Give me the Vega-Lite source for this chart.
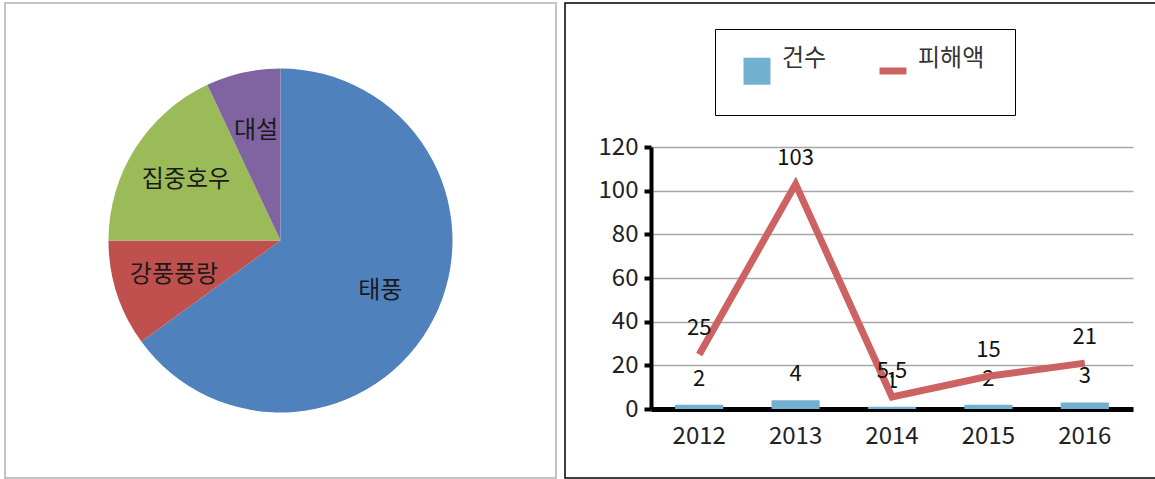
{
  "$schema": "https://vega.github.io/schema/vega-lite/v6.json",
  "background": "white",
  "padding": {"left": 4, "top": 2, "right": 0, "bottom": 0},
  "spacing": 7,
  "config": {"font": "Noto Sans CJK KR"},
  "resolve": {"scale": {"color": "independent"}, "legend": {"color": "independent"}},
  "hconcat": [
    {
      "width": 551,
      "height": 475,
      "view": {"stroke": "#c4c4c4", "strokeWidth": 2},
      "data": {"values": [
        {"type": "태풍", "value": 65, "idx": 1},
        {"type": "강풍풍랑", "value": 10, "idx": 2},
        {"type": "집중호우", "value": 18, "idx": 3},
        {"type": "대설", "value": 7, "idx": 4}
      ]},
      "encoding": {
        "theta": {"field": "value", "type": "quantitative", "stack": true},
        "order": {"field": "idx", "type": "quantitative"}
      },
      "layer": [
        {
          "mark": {"type": "arc", "outerRadius": 172},
          "encoding": {
            "color": {"field": "type", "type": "nominal",
              "scale": {"domain": ["태풍", "강풍풍랑", "집중호우", "대설"], "range": ["#4F81BD", "#C0504D", "#9BBB59", "#8064A2"]},
              "legend": null}
          }
        },
        {
          "mark": {"type": "text", "radius": 112, "fontSize": 24, "color": "#1a1a1a"},
          "encoding": {"text": {"field": "type", "type": "nominal"}}
        }
      ]
    },
    {
      "width": 591,
      "height": 475,
      "view": {"stroke": "black", "strokeWidth": 1.5},
      "data": {"values": [
        {"year": "2012", "cnt": 2, "dmg": 25},
        {"year": "2013", "cnt": 4, "dmg": 103},
        {"year": "2014", "cnt": 1, "dmg": 5.5},
        {"year": "2015", "cnt": 2, "dmg": 15},
        {"year": "2016", "cnt": 3, "dmg": 21}
      ]},
      "encoding": {
        "x": {"field": "year", "type": "ordinal",
          "scale": {"range": [86, 568], "paddingInner": 0.5, "paddingOuter": 0.25},
          "axis": {"orient": "bottom", "offset": -69, "domainColor": "black", "domainWidth": 5, "ticks": false, "labelFontSize": 24, "labelPadding": 15, "labelAngle": 0, "labelColor": "#222", "title": null, "grid": false}}
      },
      "layer": [
        {
          "mark": {"type": "bar"},
          "encoding": {
            "y": {"field": "cnt", "type": "quantitative",
              "scale": {"domain": [0, 120], "range": [406, 144], "nice": false},
              "axis": {"values": [0, 20, 40, 60, 80, 100, 120], "offset": -86, "domainColor": "black", "domainWidth": 4, "tickColor": "black", "tickWidth": 4, "tickSize": 7, "labelFontSize": 24, "labelPadding": 6, "labelColor": "#222", "gridColor": "#a6a6a6", "gridWidth": 1.5, "grid": true, "title": null}},
            "color": {"datum": "건수", "type": "nominal",
              "scale": {"domain": ["건수", "피해액"], "range": ["#72B0D0", "#CD6262"]},
              "legend": {
                "orient": "none", "legendX": 150, "legendY": 26, "direction": "horizontal", "title": null,
                "strokeColor": "black", "padding": 30, "columnPadding": 38, "labelOffset": 13,
                "symbolSize": 729, "labelFontSize": 24, "labelColor": "#333", "labelBaseline": "bottom",
                "encode": {"symbols": {"update": {
                  "shape": {"signal": "datum.value === '건수' ? 'square' : 'stroke'"},
                  "fill": {"signal": "datum.value === '건수' ? '#72B0D0' : 'transparent'"},
                  "stroke": {"signal": "datum.value === '건수' ? 'transparent' : '#CD6262'"},
                  "strokeWidth": {"signal": "datum.value === '건수' ? 0 : 7"}
                }}}
              }}
          }
        },
        {
          "mark": {"type": "text", "dy": -26, "fontSize": 22, "color": "#111"},
          "encoding": {
            "y": {"field": "cnt", "type": "quantitative"},
            "text": {"field": "cnt", "type": "quantitative"}
          }
        },
        {
          "mark": {"type": "line", "strokeWidth": 7, "strokeCap": "butt"},
          "encoding": {
            "y": {"field": "dmg", "type": "quantitative"},
            "color": {"datum": "피해액", "type": "nominal"}
          }
        },
        {
          "mark": {"type": "text", "dy": -26, "fontSize": 22, "color": "#111"},
          "encoding": {
            "y": {"field": "dmg", "type": "quantitative"},
            "text": {"field": "dmg", "type": "quantitative"}
          }
        }
      ]
    }
  ]
}
